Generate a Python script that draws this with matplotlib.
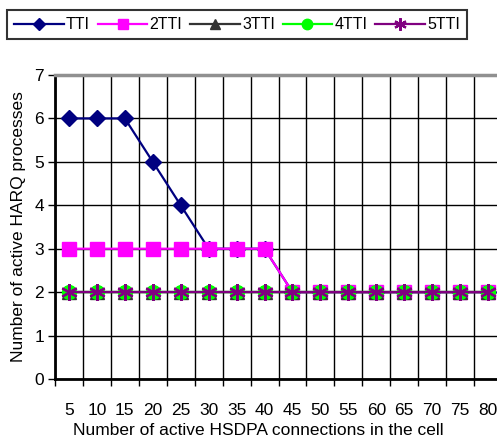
import matplotlib
matplotlib.use("Agg")
import matplotlib.pyplot as plt
from matplotlib.lines import Line2D

plt.rcParams['font.family'] = ['Liberation Sans', 'DejaVu Sans']

categories = [5, 10, 15, 20, 25, 30, 35, 40, 45, 50, 55, 60, 65, 70, 75, 80]
tti = [6, 6, 6, 5, 4, 3, 3, 3, 2, 2, 2, 2, 2, 2, 2, 2]
tti2 = [3, 3, 3, 3, 3, 3, 3, 3, 2, 2, 2, 2, 2, 2, 2, 2]
tti3 = [2] * 16
tti4 = [2] * 16
tti5 = [2] * 16
labels = ['TTI', '2TTI', '3TTI', '4TTI', '5TTI']

fig = plt.figure(figsize=(4.97, 4.40), dpi=100)
W, H = 497, 440
ax = fig.add_axes([55 / W, 61 / H, (502 - 55) / W, (379 - 75) / H])

x = list(range(len(categories)))
styles = [
    dict(color='#000080', marker='D', ms=8, mfc='#000080', mec='#000080'),
    dict(color='#FF00FF', marker='s', ms=10.5, mfc='#FF00FF', mec='#FF00FF'),
    dict(color='#333333', marker='^', ms=10, mfc='#333333', mec='#333333'),
    dict(color='#00FF00', marker='o', ms=10, mfc='#00FF00', mec='#00FF00'),
    dict(color='#800080', marker=(6, 2, 0), ms=12, mfc='#800080', mec='#800080', mew=1.6),
]
series = [tti, tti2, tti3, tti4, tti5]
for ys, st, lab in zip(series, styles, labels):
    ax.plot(x, ys, lw=1.6, label=lab, clip_on=False, zorder=3, **st)

ax.set_xlim(-0.5, len(categories) - 0.5)
ax.set_ylim(0, 7)
ax.set_yticks(range(0, 8))
ax.set_xticks([i - 0.5 for i in range(len(categories) + 1)])
ax.set_xticklabels([])
ax.set_xticks(x, minor=True)
ax.set_xticklabels([str(c) for c in categories], minor=True)
ax.tick_params(axis='x', which='minor', length=0, pad=17, labelsize=12.5)
ax.tick_params(axis='x', which='major', length=5, width=1.0, direction='out', color='black')
ax.tick_params(axis='y', length=5, width=1.0, direction='out', labelsize=12.5, pad=3)

ax.grid(True, axis='y', color='black', lw=1.0, zorder=1)
ax.grid(True, axis='x', which='major', color='black', lw=1.0, zorder=1)

ax.spines['right'].set_visible(False)
ax.spines['top'].set_color('#909090')
ax.spines['top'].set_linewidth(2.5)
ax.spines['left'].set_linewidth(2)
ax.spines['bottom'].set_linewidth(2)

ax.set_xlabel('Number of active HSDPA connections in the cell', fontsize=12.5, labelpad=4)
ax.xaxis.label.set_x(0.455)
ax.set_ylabel('Number of active HARQ processes', fontsize=12.5, labelpad=6)

handles = []
for st, lab in zip(styles, labels):
    st2 = dict(st)
    st2['ms'] = st['ms'] * 0.75
    handles.append(Line2D([], [], lw=1.6, label=lab, **st2))
leg = fig.legend(handles=handles, loc='upper left', bbox_to_anchor=(7 / W, 1 - 10 / H),
                 ncol=5, frameon=True, fancybox=False, edgecolor='black', fontsize=11.5,
                 handlelength=3.1, handletextpad=0.15, columnspacing=0.48, borderpad=0.45,
                 borderaxespad=0)
leg.get_frame().set_linewidth(1.5)

fig.savefig('out.png', dpi=100)
